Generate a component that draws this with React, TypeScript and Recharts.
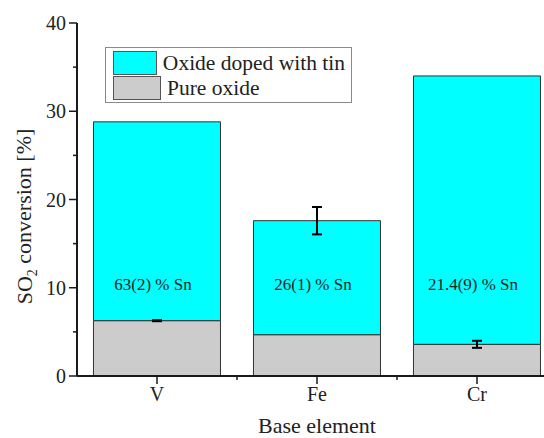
import React from 'react';
import { BarChart, Bar, XAxis, YAxis, ErrorBar, Legend, ReferenceDot, Label } from 'recharts';

// Base elements on the category axis
const elements = ['V', 'Fe', 'Cr'];
// SO2 conversion [%] of the pure oxides and their errors
const pureOxide = [6.27, 4.68, 3.59];
const pureOxideErr = [0.06, null, 0.4];
// SO2 conversion [%] of the tin-doped oxides (total height) and their errors
const dopedTotal = [28.8, 17.6, 34.0];
const dopedTotalErr = [null, 1.55, null];
// Tin content of each doped oxide
const tinContent = ['63(2) % Sn', '26(1) % Sn', '21.4(9) % Sn'];
// Value axis ticks (majors every 10, minors in between)
const yTicks = [0, 5, 10, 15, 20, 25, 30, 35, 40];

const SN_LABEL_Y = 9.7;
const FONT = '"Liberation Serif", "Times New Roman", serif';
const CYAN = '#00FFFF';
const GREY = '#CCCCCC';
const EDGE = '#333333';
const AXIS = '#1a1a1a';
const TICK_SIZE = 8;
const TICK_MARGIN = 3;

const data = elements.map((el, i) => ({
  element: el,
  pure: pureOxide[i],
  pureErr: pureOxideErr[i],
  doped: +(dopedTotal[i] - pureOxide[i]).toFixed(3),
  dopedErr: dopedTotalErr[i],
}));

const YTick = (props: any) => {
  const { x, y, payload } = props;
  const major = payload.value % 10 === 0;
  const axisX = x + TICK_SIZE + TICK_MARGIN;
  return (
    <g>
      <line x1={axisX - (major ? TICK_SIZE : 4)} x2={axisX} y1={y} y2={y} stroke={AXIS} strokeWidth={1.5} />
      {major && (
        <text x={x} y={y} dy="0.35em" textAnchor="end" fontFamily={FONT} fontSize={20} fill="#222">
          {payload.value}
        </text>
      )}
    </g>
  );
};

const XTick = (props: any) => {
  const { x, y, payload, index, visibleTicksCount, width } = props;
  const axisY = y - TICK_SIZE - TICK_MARGIN;
  const half = payload.offset ?? width / visibleTicksCount / 2;
  const last = index === visibleTicksCount - 1;
  return (
    <g>
      <line x1={x} x2={x} y1={axisY} y2={axisY + TICK_SIZE} stroke={AXIS} strokeWidth={1.5} />
      {!last && (
        <line x1={x + half} x2={x + half} y1={axisY} y2={axisY + 4} stroke={AXIS} strokeWidth={1.5} />
      )}
      <text x={x} y={y} dy="0.71em" textAnchor="middle" fontFamily={FONT} fontSize={20} fill="#222">
        {payload.value}
      </text>
    </g>
  );
};

const legendItems = [
  { name: 'Oxide doped with tin', color: CYAN },
  { name: 'Pure oxide', color: GREY },
];

const LegendBox = () => (
  <div
    style={{
      border: '1px solid #8a8a8a',
      background: '#fff',
      padding: '2px 6px 2px 7px',
      fontFamily: FONT,
      fontSize: 21.5,
      color: '#222',
      boxSizing: 'border-box',
      width: 247,
      height: 56,
    }}
  >
    {legendItems.map((it) => (
      <div key={it.name} style={{ display: 'flex', alignItems: 'center', height: 25.5, lineHeight: '24px' }}>
        <span
          style={{
            display: 'inline-block',
            width: 48,
            height: 24,
            boxSizing: 'border-box',
            background: it.color,
            border: '1.5px solid #555',
            marginRight: 6,
          }}
        />
        <span style={{ whiteSpace: 'nowrap' }}>{it.name}</span>
      </div>
    ))}
  </div>
);

const SnLabel = (text: string) => (props: any) => {
  const { viewBox } = props;
  return (
    <text x={viewBox.x - 4} y={viewBox.y} textAnchor="middle" fontFamily={FONT} fontSize={17} fill="#222">
      {text}
    </text>
  );
};

export default function App() {
  return (
    <div style={{ position: 'absolute', left: 0, top: 0, width: 544, height: 438, overflow: 'hidden', background: '#fff' }}>
      <BarChart
        width={600}
        height={438}
        data={data}
        margin={{ top: 23, right: 43, bottom: 0, left: 0 }}
        barCategoryGap="10.3%"
      >
        <XAxis
          dataKey="element"
          height={62}
          axisLine={{ stroke: AXIS, strokeWidth: 2 }}
          tickLine={false}
          tickSize={TICK_SIZE}
          tickMargin={TICK_MARGIN}
          interval={0}
          tick={<XTick />}
        >
          <Label
            content={(p: any) => (
              <text
                x={p.viewBox.x + p.viewBox.width / 2}
                y={p.viewBox.y + p.viewBox.height - 5}
                textAnchor="middle"
                fontFamily={FONT}
                fontSize={22}
                fill="#222"
              >
                Base element
              </text>
            )}
          />
        </XAxis>
        <XAxis xAxisId="top" dataKey="element" orientation="top" height={0} tick={false} tickLine={false} axisLine={{ stroke: AXIS, strokeWidth: 2 }} />
        <YAxis
          width={77}
          domain={[0, 40]}
          ticks={yTicks}
          interval={0}
          axisLine={{ stroke: AXIS, strokeWidth: 2 }}
          tickLine={false}
          tickSize={TICK_SIZE}
          tickMargin={TICK_MARGIN}
          tick={<YTick />}
        >
          <Label
            content={(p: any) => {
              const cx = p.viewBox.x + 32;
              const cy = p.viewBox.y + p.viewBox.height / 2 + 17;
              return (
                <text
                  x={cx}
                  y={cy}
                  transform={`rotate(-90 ${cx} ${cy})`}
                  textAnchor="middle"
                  fontFamily={FONT}
                  fontSize={22}
                  fill="#222"
                >
                  SO
                  <tspan fontSize={14} dy="0.35em">2</tspan>
                  <tspan dy="-0.25em"> conversion [%]</tspan>
                </text>
              );
            }}
          />
        </YAxis>
        <Legend layout="vertical" align="center" verticalAlign="middle" wrapperStyle={{ left: 105, top: 47, width: 247, height: 56 }} content={<LegendBox />} />
        <Bar dataKey="pure" name="Pure oxide" stackId="s" fill={GREY} stroke={EDGE} strokeWidth={1} isAnimationActive={false}>
          <ErrorBar dataKey="pureErr" width={5} stroke="#000" strokeWidth={2} direction="y" />
        </Bar>
        <Bar dataKey="doped" name="Oxide doped with tin" stackId="s" fill={CYAN} stroke={EDGE} strokeWidth={1} isAnimationActive={false}>
          <ErrorBar dataKey="dopedErr" width={5} stroke="#000" strokeWidth={2} direction="y" />
        </Bar>
        {elements.map((el, i) => (
          <ReferenceDot key={el} x={el} y={SN_LABEL_Y} r={0} fill="none" stroke="none" label={SnLabel(tinContent[i])} />
        ))}
      </BarChart>
    </div>
  );
}
